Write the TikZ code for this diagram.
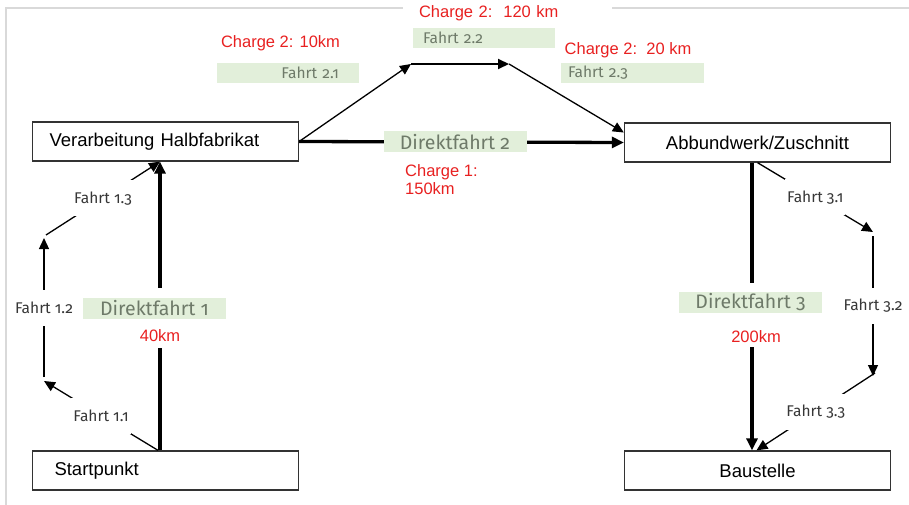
\documentclass[tikz,border=0pt]{standalone}
\usepackage{fontspec}
\setmainfont{Liberation Sans}
\newfontfamily\fira[Numbers=OldStyle]{Fira Sans}
\usetikzlibrary{arrows.meta}
\definecolor{framegray}{RGB}{217,217,217}
\definecolor{boxgray}{RGB}{51,51,51}
\definecolor{lgreen}{RGB}{226,239,218}
\definecolor{ggray}{RGB}{110,122,105}
\definecolor{cred}{RGB}{232,32,32}
\definecolor{lgray}{RGB}{55,55,55}
\begin{document}
\begin{tikzpicture}[x=1pt,y=-1pt,
 box/.style={draw=boxgray, line width=1.3pt, minimum width=266pt, minimum height=39pt, inner sep=0pt, font=\fontsize{18.5}{22}\selectfont},
 thickc/.style={line width=3.3pt, -{Triangle[length=12pt,width=11pt]}},
 thinc/.style={line width=1.3pt, -{Triangle[length=11pt,width=10pt]}},
 midc/.style={line width=2pt, -{Triangle[length=11pt,width=10pt]}},
 flabel/.style={font=\fira\fontsize{15.5}{17}\selectfont, text=lgray, fill=white, inner xsep=2pt, inner ysep=0pt, minimum height=36pt},
 glabel/.style={fill=lgreen, text=ggray, inner ysep=0pt, minimum height=20pt, font=\fira\fontsize{15.5}{17}\selectfont},
 dlabel/.style={fill=lgreen, text=ggray, inner sep=0pt, minimum height=21pt, minimum width=143pt, font=\fira\fontsize{19.5}{21}\selectfont},
 rlabel/.style={text=cred, font=\fontsize{16.5}{18}\selectfont, inner sep=0pt},
 gapnode/.style={fill=white, inner sep=0pt, minimum width=12pt},
]
\useasboundingbox (0,0) rectangle (909,505);
% frame
\draw[framegray, line width=2pt] (909,8) -- (6,8) -- (6,505);
\node[rlabel, fill=white, minimum width=209pt, minimum height=22pt, text width=177pt, inner xsep=16pt, align=left] (ch22) at (507.5,13) {Charge 2:\ \ 120 km};

% boxes
\node[box, text width=232pt, inner xsep=17pt, align=left] (verar) at (165.5,141.5) {Verarbeitung Halbfabrikat};
\node[box, text width=222pt, inner xsep=22pt, align=left] (start) at (165.5,470.5) {Startpunkt};
\node[box] (abb) at (757.5,142.5) {Abbundwerk/Zuschnitt};
\node[box] (bau) at (757.5,470.5) {Baustelle};

% left loop
\coordinate (l1) at (44,381);
\coordinate (l2) at (44,377);
\coordinate (l3) at (44,238);
\coordinate (l4) at (46,235);
\draw[thinc] ([xshift=-7.5pt]start.north) -- node[flabel] (f11) {Fahrt 1.1} (l1);
\draw[thinc] (l2) -- node[flabel] (f12) {Fahrt 1.2} (l3);
\draw[thinc] (l4) -- node[flabel] (f13) {Fahrt 1.3} ([xshift=-5.5pt]verar.south);

% Direktfahrt 1
\draw[thickc] ([xshift=-5.5pt]start.north) -- node[gapnode, pos=0.459, minimum height=60pt] (gap1) {} ([xshift=-5.5pt]verar.south);
\node[dlabel] (d1) at (154.5,308.5) {Direktfahrt 1};
\node[rlabel] (km1) at (160,336) {40km};

% top route
\coordinate (t1) at (411,64);
\coordinate (t2) at (509,64);
\draw[thinc] (verar.east) -- (t1);
\draw[midc] (t1) -- (t2);
\draw[thinc] (t2) -- ([yshift=10pt]abb.west);
\node[glabel, minimum width=142pt, text width=102pt, inner xsep=20pt, align=right] (f21) at (288,73) {Fahrt 2.1};
\node[glabel, minimum width=142pt, text width=122pt, inner xsep=10pt, align=left] (f22) at (484,38) {Fahrt 2.2};
\node[glabel, minimum width=143pt, text width=129pt, inner xsep=7pt, align=left] (f23) at (632.5,73) {Fahrt 2.3};
\node[rlabel] (ch21) at (280.5,43) {Charge 2: 10km};
\node[rlabel] (ch23) at (628,50) {Charge 2:\ \ 20 km};

% Direktfahrt 2
\draw[thickc] (verar.east) -- node[dlabel, pos=0.48] (d2) {Direktfahrt 2} (abb.west);
\node[rlabel, align=left, anchor=north west] (ch1) at (405,164) {Charge 1:\\150km};

% right loop
\coordinate (r1) at (873,232);
\coordinate (r2) at (873,236);
\coordinate (r3) at (873,376);
\coordinate (r4) at (875,373);
\draw[thinc] (abb.south) -- node[flabel] (f31) {Fahrt 3.1} (r1);
\draw[thinc] (r2) -- node[flabel] (f32) {Fahrt 3.2} (r3);
\draw[thinc] (r4) -- node[flabel] (f33) {Fahrt 3.3} ([xshift=-1pt]bau.north);

% Direktfahrt 3
\draw[thickc] ([xshift=-5.5pt]abb.south) -- node[gapnode, pos=0.53, minimum height=64pt] (gap3) {} ([xshift=-5.5pt]bau.north);
\node[dlabel] (d3) at (750.5,302.5) {Direktfahrt 3};
\node[rlabel] (km3) at (756,337) {200km};
\end{tikzpicture}
\end{document}
